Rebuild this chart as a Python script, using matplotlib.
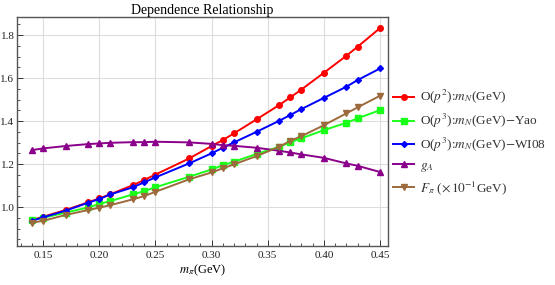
import numpy as np
import matplotlib
matplotlib.use("Agg")
import matplotlib.pyplot as plt
from matplotlib.ticker import MultipleLocator

# -----------------------------
# Data
# -----------------------------
m_pi = [0.14, 0.15, 0.17, 0.19, 0.20, 0.21, 0.23, 0.24, 0.25, 0.28, 0.30,
        0.31, 0.32, 0.34, 0.36, 0.37, 0.38, 0.40, 0.42, 0.43, 0.45]

mN_p2 = [0.940, 0.955, 0.986, 1.022, 1.040, 1.060, 1.102, 1.126, 1.151, 1.226, 1.284,
         1.312, 1.343, 1.408, 1.474, 1.510, 1.547, 1.625, 1.704, 1.746, 1.833]
mN_yao = [0.940, 0.950, 0.974, 0.998, 1.014, 1.028, 1.059, 1.074, 1.092, 1.141, 1.175,
          1.195, 1.211, 1.247, 1.280, 1.301, 1.320, 1.358, 1.392, 1.413, 1.451]
mN_wi08 = [0.936, 0.952, 0.983, 1.020, 1.037, 1.059, 1.092, 1.115, 1.138, 1.203, 1.250,
           1.276, 1.301, 1.350, 1.401, 1.428, 1.456, 1.508, 1.560, 1.591, 1.645]
g_A = [1.265, 1.273, 1.284, 1.293, 1.296, 1.299, 1.302, 1.302, 1.304, 1.301, 1.294,
       1.288, 1.285, 1.276, 1.262, 1.254, 1.245, 1.229, 1.203, 1.192, 1.163]
F_pi = [0.927, 0.936, 0.963, 0.986, 0.997, 1.009, 1.036, 1.051, 1.071, 1.129, 1.161,
        1.180, 1.199, 1.237, 1.280, 1.308, 1.330, 1.381, 1.436, 1.464, 1.518]

labels = [r"O($p^2$):$m_N$(GeV)",
          r"O($p^3$):$m_N$(GeV)$-$Yao",
          r"O($p^3$):$m_N$(GeV)$-$WI08",
          r"$g_A$",
          r"$F_\pi$ ($\times\,10^{-1}$GeV)"]

# -----------------------------
# Style
# -----------------------------
plt.rcParams["font.family"] = ["Liberation Serif", "DejaVu Serif"]
plt.rcParams["mathtext.fontset"] = "stix"

fig = plt.figure(figsize=(5.55, 2.85), dpi=100)
ax = fig.add_axes([0.031, 0.137, 0.668, 0.803])

series = [mN_p2, mN_yao, mN_wi08, g_A, F_pi]
colors = ["#ff0000", "#1aff1a", "#0000ff", "#8b008b", "#9c6a3c"]
markers = ["o", "s", "D", "^", "v"]
sizes = [4.0, 4.0, 3.0, 4.2, 4.2]

for ys, c, m, s, lab in zip(series, colors, markers, sizes, labels):
    ax.plot(m_pi, ys, color=c, marker=m, markersize=s, linewidth=1.4, label=lab)

ax.set_xlim(0.127, 0.457)
ax.set_ylim(0.819, 1.884)
ax.xaxis.set_major_locator(MultipleLocator(0.05))
ax.xaxis.set_minor_locator(MultipleLocator(0.01))
ax.yaxis.set_major_locator(MultipleLocator(0.2))
ax.yaxis.set_minor_locator(MultipleLocator(0.05))
ax.xaxis.set_major_formatter(plt.FormatStrFormatter("%.2f"))
ax.yaxis.set_major_formatter(plt.FormatStrFormatter("%.1f"))

ax.tick_params(which="both", direction="in", top=False, right=False,
               labelsize=8, colors="#333333", labelcolor="#222222")
ax.tick_params(which="major", length=4, width=0.7)
ax.tick_params(which="minor", length=2, width=0.6)
ax.tick_params(axis="y", pad=2)
ax.grid(True, which="major", color="#dddddd", linewidth=0.8)
ax.set_axisbelow(True)
for sp in ax.spines.values():
    sp.set_color("#555555")
    sp.set_linewidth(1.0)

ax.set_title("Dependence Relationship", fontsize=10, pad=2)
ax.set_xlabel(r"$m_\pi$(GeV)", fontsize=9, labelpad=2)

ax.legend(loc="center left", bbox_to_anchor=(1.0, 0.452), frameon=False,
          fontsize=9.5, handlelength=1.6, handletextpad=0.4, labelspacing=0.42,
          borderaxespad=0.0, labelcolor="#333333")

fig.savefig("out.png", dpi=100)
